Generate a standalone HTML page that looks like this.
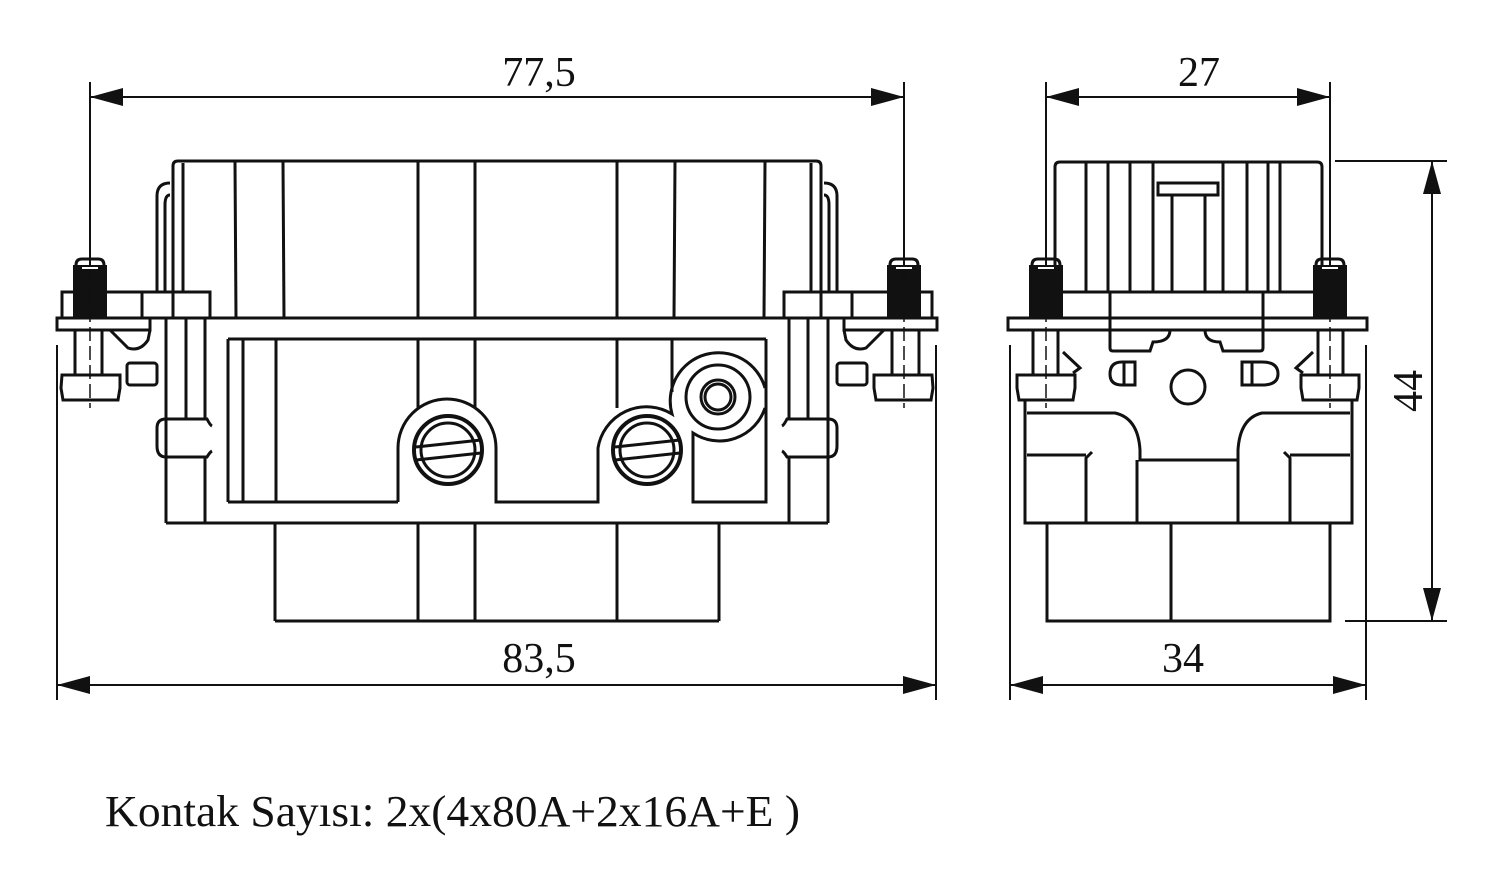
<!DOCTYPE html>
<html><head><meta charset="utf-8"><style>
html,body{margin:0;padding:0;background:#fff;}
svg{display:block;}
text{font-family:"Liberation Serif",serif;fill:#111;}
</style></head><body>
<svg width="1502" height="892" viewBox="0 0 1502 892" xmlns="http://www.w3.org/2000/svg">
<defs>
<g id="arrR"><path d="M0,0 L-33,-9 L-33,9 Z" fill="#111"/></g>
<g id="halfL" fill="none" stroke="#111" stroke-width="3">
  <path d="M173,318 L173,166 Q173,161 178,161 L497,161"/>
  <line x1="183" y1="163" x2="183" y2="292"/>
  <path d="M170,183 Q157,183 157,196 L157,292" />
  <path d="M170,195 Q165,195 165,205 L165,292" />
  <rect x="62" y="292" width="148" height="26"/>
  <line x1="142" y1="292" x2="142" y2="318"/>
  <rect x="57" y="318" width="93" height="12"/>
  <path d="M110,330 L128,348 Q140,352 148,340 L150,330"/>
  <rect x="75" y="330" width="27" height="45"/>
  <path d="M62,375 L120,375 L120,388 L118,400 L63,400 L61,388 Z"/>
  <rect x="127" y="363" width="30" height="22" rx="3"/>
  <line x1="166" y1="318" x2="166" y2="523"/>
  <line x1="166" y1="523" x2="497" y2="523"/>
  <line x1="183" y1="318" x2="497" y2="318"/>
  <line x1="205" y1="318" x2="205" y2="419"/>
  <line x1="205" y1="457" x2="205" y2="523"/>
  <line x1="186" y1="318" x2="186" y2="419"/>
  <path d="M166,419 L207,419 Q210,425 212,426"/>
  <path d="M166,457 L207,457 Q210,452 212,451"/>
  <path d="M166,419 Q157,419 157,428 L157,446 Q157,457 166,457"/>
  <line x1="228" y1="339" x2="497" y2="339"/>
  <line x1="228" y1="339" x2="228" y2="502"/>
  <line x1="275" y1="523" x2="275" y2="621"/>
  <line x1="275" y1="621" x2="497" y2="621"/>
</g>
<g id="screwThread">
  <rect x="-17" y="0" width="34" height="53" fill="#111"/>
  <path d="M-14,0 Q-14,-6 -8,-6 L8,-6 Q14,-6 14,0" fill="none" stroke="#111" stroke-width="3"/>
  <line x1="-8" y1="3" x2="8" y2="3" stroke="#fff" stroke-width="2"/>
</g>
</defs>

<g fill="none" stroke="#111" stroke-width="2">
  <line x1="90" y1="82" x2="90" y2="270"/>
  <line x1="904" y1="82" x2="904" y2="270"/>
  <line x1="90" y1="97" x2="904" y2="97"/>
  <line x1="57" y1="345" x2="57" y2="700"/>
  <line x1="936" y1="345" x2="936" y2="700"/>
  <line x1="57" y1="685" x2="936" y2="685"/>
  <line x1="1046" y1="82" x2="1046" y2="270"/>
  <line x1="1330" y1="82" x2="1330" y2="270"/>
  <line x1="1046" y1="97" x2="1330" y2="97"/>
  <line x1="1010" y1="345" x2="1010" y2="700"/>
  <line x1="1366" y1="345" x2="1366" y2="700"/>
  <line x1="1010" y1="685" x2="1366" y2="685"/>
  <line x1="1335" y1="161" x2="1447" y2="161"/>
  <line x1="1345" y1="621" x2="1447" y2="621"/>
  <line x1="1432" y1="161" x2="1432" y2="621"/>
</g>
<use href="#arrR" transform="translate(904,97)"/>
<use href="#arrR" transform="translate(90,97) scale(-1,1)"/>
<use href="#arrR" transform="translate(936,685)"/>
<use href="#arrR" transform="translate(57,685) scale(-1,1)"/>
<use href="#arrR" transform="translate(1330,97)"/>
<use href="#arrR" transform="translate(1046,97) scale(-1,1)"/>
<use href="#arrR" transform="translate(1366,685)"/>
<use href="#arrR" transform="translate(1010,685) scale(-1,1)"/>
<use href="#arrR" transform="translate(1432,161) rotate(-90)"/>
<use href="#arrR" transform="translate(1432,621) rotate(90)"/>

<text x="539" y="86" font-size="42" text-anchor="middle">77,5</text>
<text x="539" y="672" font-size="42" text-anchor="middle">83,5</text>
<text x="1199" y="86" font-size="42" text-anchor="middle">27</text>
<text x="1183" y="672" font-size="42" text-anchor="middle">34</text>
<text x="0" y="0" font-size="42" text-anchor="middle" transform="translate(1422,391) rotate(-90)">44</text>

<use href="#halfL"/>
<use href="#halfL" transform="translate(994,0) scale(-1,1)"/>
<use href="#screwThread" transform="translate(90,265)"/>
<use href="#screwThread" transform="translate(904,265)"/>
<g fill="none" stroke="#111" stroke-width="3">
  <!-- housing verticals -->
  <line x1="235" y1="162" x2="236" y2="318"/>
  <line x1="283" y1="162" x2="284" y2="318"/>
  <line x1="418" y1="162" x2="418" y2="318"/>
  <line x1="475" y1="162" x2="475" y2="318"/>
  <line x1="617" y1="162" x2="617" y2="318"/>
  <line x1="675" y1="162" x2="674" y2="318"/>
  <line x1="765" y1="162" x2="764" y2="318"/>
  <!-- inner verticals -->
  <line x1="243" y1="339" x2="243" y2="502"/>
  <line x1="276" y1="339" x2="276" y2="502"/>
  <line x1="228" y1="502" x2="398" y2="502"/>
  <path d="M398,502 L398,448 A49,49 0 0 1 496,448 L496,502 L598,502 L598,448 A49,49 0 0 1 672,414 A48,48 0 0 1 765,388"/>
  <path d="M765,408 A48,48 0 0 1 693,433 L693,502 L766,502 L766,408"/>
  <line x1="766" y1="339" x2="766" y2="388"/>
  <circle cx="718" cy="397" r="32"/>
  <circle cx="718" cy="397" r="17"/>
  <circle cx="718" cy="397" r="13"/>
  <line x1="418" y1="339" x2="418" y2="408"/>
  <line x1="475" y1="339" x2="475" y2="408"/>
  <line x1="617" y1="339" x2="617" y2="408"/>
  <line x1="672" y1="339" x2="672" y2="392"/>
  <!-- lower verticals -->
  <line x1="418" y1="523" x2="418" y2="621"/>
  <line x1="475" y1="523" x2="475" y2="621"/>
  <line x1="617" y1="523" x2="617" y2="621"/>
  <circle cx="448" cy="450" r="34" stroke-width="4"/>
  <circle cx="448" cy="450" r="27"/>
  <path d="M416,447 L481,440 M416,460 L481,453"/>
  <circle cx="647" cy="450" r="34" stroke-width="4"/>
  <circle cx="647" cy="450" r="27"/>
  <path d="M615,447 L680,440 M615,460 L680,453"/>
</g>
<g stroke="#111" stroke-width="1.5" stroke-dasharray="14,5">
  <line x1="90" y1="270" x2="90" y2="408"/>
  <line x1="904" y1="270" x2="904" y2="408"/>
  <line x1="1046" y1="270" x2="1046" y2="408"/>
  <line x1="1330" y1="270" x2="1330" y2="408"/>
</g>

<g fill="none" stroke="#111" stroke-width="3">
  <path d="M1055,293 L1055,167 Q1055,162 1060,162 L1317,162 Q1322,162 1322,167 L1322,293"/>
  <line x1="1086" y1="163" x2="1086" y2="292"/>
  <line x1="1108" y1="163" x2="1108" y2="292"/>
  <line x1="1130" y1="163" x2="1130" y2="292"/>
  <line x1="1153" y1="163" x2="1153" y2="292"/>
  <line x1="1223" y1="163" x2="1223" y2="292"/>
  <line x1="1247" y1="163" x2="1247" y2="292"/>
  <line x1="1268" y1="163" x2="1268" y2="292"/>
  <line x1="1280" y1="163" x2="1280" y2="292"/>
  <rect x="1158" y="183" width="60" height="12"/>
  <line x1="1172" y1="195" x2="1172" y2="292"/>
  <line x1="1205" y1="195" x2="1205" y2="292"/>
  <line x1="1062" y1="292" x2="1313" y2="292"/>
  <rect x="1008" y="318" width="359" height="12"/>
  <path d="M1110,292 L1110,348 Q1110,351 1113,351 L1150,351 L1153,342 Q1170,342 1170,330"/>
  <path d="M1263,292 L1263,348 Q1263,351 1260,351 L1223,351 L1220,342 Q1205,342 1205,330"/>
  <rect x="1033" y="330" width="25" height="45"/>
  <rect x="1318" y="330" width="25" height="45"/>
  <path d="M1017,375 L1075,375 L1075,388 L1073,400 L1019,400 L1017,388 Z"/>
  <path d="M1301,375 L1359,375 L1359,388 L1357,400 L1303,400 L1301,388 Z"/>
  <path d="M1063,352 L1080,368 L1073,373"/>
  <path d="M1313,352 L1296,368 L1303,373"/>
  <path d="M1135,362 L1122,362 Q1110,362 1110,374 Q1110,385 1122,385 L1135,385 Z M1124,362 L1124,385"/>
  <path d="M1242,362 L1262,362 Q1278,362 1278,374 Q1278,385 1262,385 L1242,385 Z M1252,362 L1252,385"/>
  <circle cx="1188" cy="387" r="17"/>
  <path d="M1025,400 L1025,523 L1352,523 L1352,400"/>
  <path d="M1027,413 L1115,413 Q1138,418 1140,450 L1140,460 L1238,460 L1238,450 Q1240,418 1262,413 L1350,413"/>
  <line x1="1027" y1="455" x2="1086" y2="455"/>
  <line x1="1290" y1="455" x2="1350" y2="455"/>
  <path d="M1086,523 L1086,458 L1092,452"/>
  <path d="M1290,523 L1290,458 L1284,452"/>
  <line x1="1137" y1="460" x2="1137" y2="523"/>
  <line x1="1238" y1="460" x2="1238" y2="523"/>
  <rect x="1047" y="523" width="283" height="98"/>
  <line x1="1171" y1="523" x2="1171" y2="621"/>
</g>
<use href="#screwThread" transform="translate(1046,265)"/>
<use href="#screwThread" transform="translate(1330,265)"/>

<text x="105" y="826" font-size="44" textLength="695" lengthAdjust="spacingAndGlyphs">Kontak Sayısı: 2x(4x80A+2x16A+E )</text>
</svg>
</body></html>
